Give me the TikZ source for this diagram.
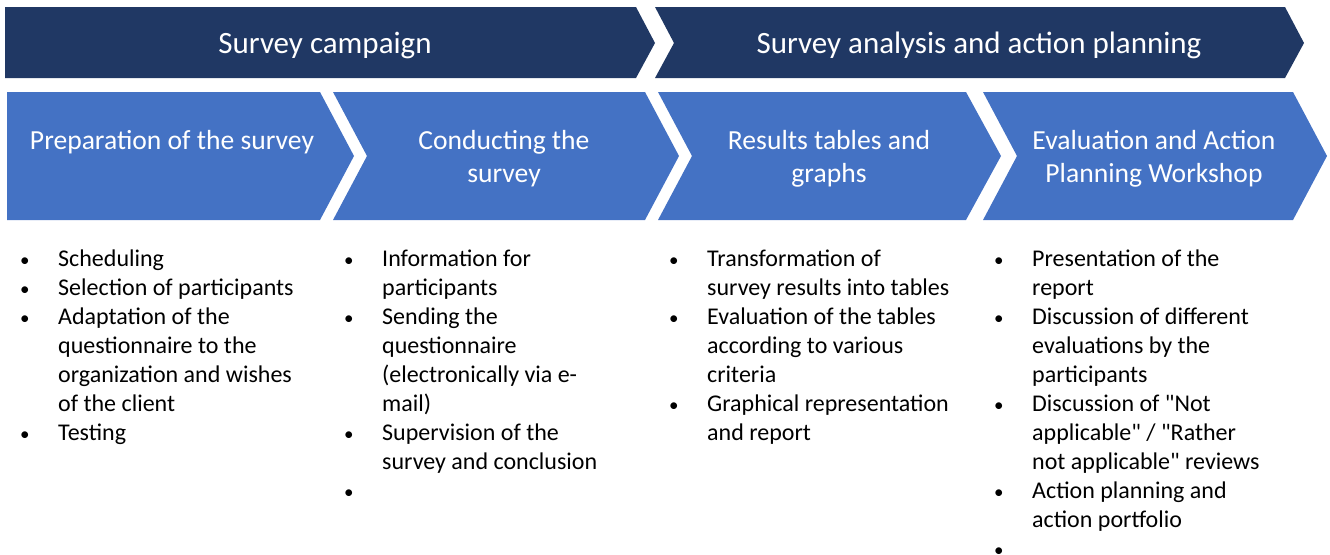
\documentclass[tikz,border=0pt]{standalone}
\usepackage{fontspec}
\setmainfont{Carlito}[Ligatures=TeXOff]
\usepackage{array}
\definecolor{phasedark}{HTML}{203864}
\definecolor{steplight}{HTML}{4472C4}
\tikzset{
  phase/.style={fill=phasedark},
  stepshape/.style={fill=steplight},
  phasetitle/.style={text=white, anchor=base, inner sep=0pt, font=\fontsize{31}{36}\selectfont},
  steptitle/.style={text=white, anchor=base, inner sep=0pt, font=\fontsize{27.6}{33}\selectfont},
  itemlist/.style={anchor=base west, inner sep=0pt, font=\fontsize{24}{29}\selectfont},
}
\newcommand{\bulletrows}[1]{\begin{tabular}[t]{@{}>{\raggedright}p{38pt}@{}l@{}}#1\end{tabular}}
\newcommand{\itm}{{\fontsize{19}{29}\selectfont\textbullet}}
\begin{document}
\begin{tikzpicture}[x=1pt,y=-1pt]
\useasboundingbox (0,0) rectangle (1330,554);

% phase bars
\fill[phase] (5,7) -- (636,7) -- (655,43) -- (636,78) -- (5,78) -- cycle;
\fill[phase] (655,7) -- (1285,7) -- (1304,43) -- (1285,78) -- (655,78) -- (674,43) -- cycle;

% step chevrons
\fill[stepshape] (7,92) -- (320,92) -- (354,156) -- (320,220) -- (7,220) -- cycle;
\fill[stepshape] (333,92) -- (645,92) -- (679,156) -- (645,220) -- (333,220) -- (367,156) -- cycle;
\fill[stepshape] (658,92) -- (966,92) -- (1001,156) -- (966,220) -- (658,220) -- (692,156) -- cycle;
\fill[stepshape] (983,92) -- (1293,92) -- (1327,156) -- (1293,220) -- (983,220) -- (1017,156) -- cycle;

% phase titles
\node[phasetitle] (p1) at (325,53) {Survey campaign};
\node[phasetitle] (p2) at (979,53) {Survey analysis and action planning};

% step titles
\node[steptitle] (s1) at (172,149) {\begin{tabular}[t]{@{}c@{}}Preparation of the survey\end{tabular}};
\node[steptitle] (s2) at (504,149) {\begin{tabular}[t]{@{}c@{}}Conducting the\\survey\end{tabular}};
\node[steptitle] (s3) at (829,149) {\begin{tabular}[t]{@{}c@{}}Results tables and\\graphs\end{tabular}};
\node[steptitle] (s4) at (1154,149) {\begin{tabular}[t]{@{}c@{}}Evaluation and Action\\Planning Workshop\end{tabular}};

% bullet lists
\node[itemlist] (l1) at (20,266) {\bulletrows{%
\itm & Scheduling\\
\itm & Selection of participants\\
\itm & Adaptation of the\\
 & questionnaire to the\\
 & organization and wishes\\
 & of the client\\
\itm & Testing\\}};
\node[itemlist] (l2) at (344,266) {\bulletrows{%
\itm & Information for\\
 & participants\\
\itm & Sending the\\
 & questionnaire\\
 & (electronically via e-\\
 & mail)\\
\itm & Supervision of the\\
 & survey and conclusion\\
\itm & \\}};
\node[itemlist] (l3) at (669,266) {\bulletrows{%
\itm & Transformation of\\
 & survey results into tables\\
\itm & Evaluation of the tables\\
 & according to various\\
 & criteria\\
\itm & Graphical representation\\
 & and report\\}};
\node[itemlist] (l4) at (994,266) {\bulletrows{%
\itm & Presentation of the\\
 & report\\
\itm & Discussion of different\\
 & evaluations by the\\
 & participants\\
\itm & Discussion of "Not\\
 & applicable" / "Rather\\
 & not applicable" reviews\\
\itm & Action planning and\\
 & action portfolio\\
\itm & \\}};
\end{tikzpicture}
\end{document}
